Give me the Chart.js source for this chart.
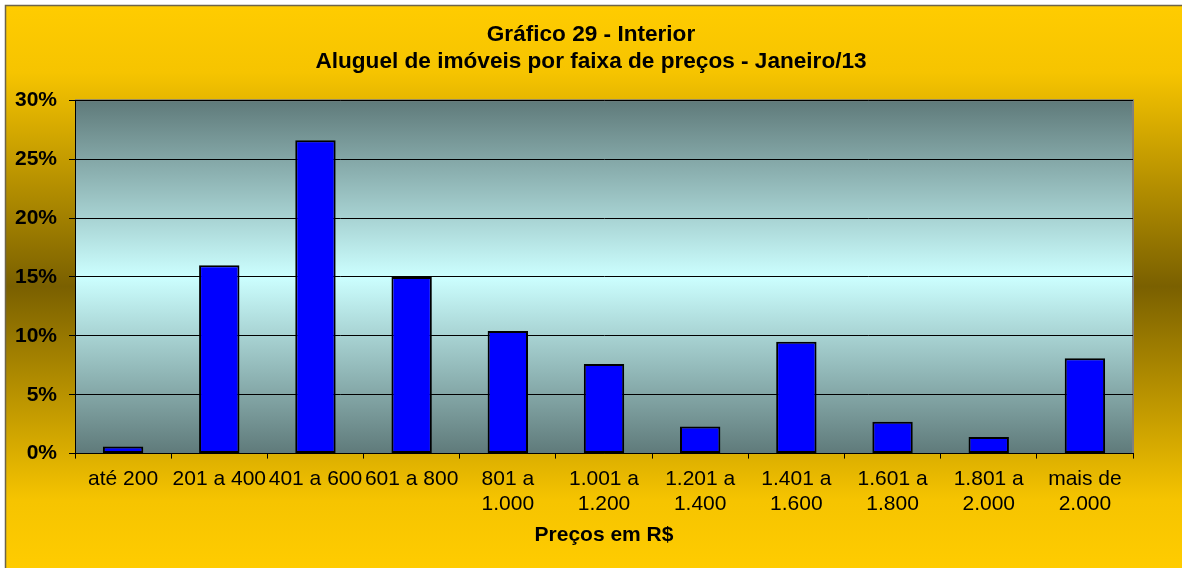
<!DOCTYPE html>
<html>
<head>
<meta charset="utf-8">
<script src="https://cdn.jsdelivr.net/npm/chart.js@4/dist/chart.umd.min.js"></script>
<style>
  html, body { margin: 0; padding: 0; background: #ffffff; }
  #wrap { position: relative; width: 1182px; height: 568px; }
</style>
</head>
<body>
<div id="wrap"><canvas id="c" width="1182" height="568"></canvas></div>
<script>
const categories = [
  "até 200", "201 a 400", "401 a 600", "601 a 800",
  ["801 a", "1.000"], ["1.001 a", "1.200"], ["1.201 a", "1.400"],
  ["1.401 a", "1.600"], ["1.601 a", "1.800"], ["1.801 a", "2.000"],
  ["mais de", "2.000"]
];
const shares = [0.6, 16.0, 26.6, 15.0, 10.4, 7.6, 2.3, 9.5, 2.7, 1.4, 8.1];
const yTicks = [0, 5, 10, 15, 20, 25, 30];
const titleLines = ["Gráfico 29 - Interior", "Aluguel de imóveis por faixa de preços - Janeiro/13"];
const xAxisTitle = "Preços em R$";

const FONT = "'Liberation Sans', Arial, sans-serif";

const backgroundPlugin = {
  id: 'bgPlugin',
  beforeDraw(chart) {
    const ctx = chart.ctx;
    const W = chart.width, H = chart.height;
    ctx.save();
    const g = ctx.createLinearGradient(0, 5, 0, H);
    g.addColorStop(0, '#FFCC00');
    g.addColorStop(0.12, '#F6C400');
    g.addColorStop(0.5, '#7A6000');
    g.addColorStop(0.88, '#F6C400');
    g.addColorStop(1, '#FFCC00');
    ctx.fillStyle = g;
    ctx.fillRect(5, 5, W - 5, H - 5);
    ctx.strokeStyle = '#6e6448';
    ctx.lineWidth = 1.5;
    ctx.beginPath();
    ctx.moveTo(5.5, H);
    ctx.lineTo(5.5, 5.5);
    ctx.lineTo(W, 5.5);
    ctx.stroke();
    const a = chart.chartArea;
    const pg = ctx.createLinearGradient(0, a.top, 0, a.bottom);
    pg.addColorStop(0, '#5F7A7A');
    pg.addColorStop(0.5, '#CCFFFF');
    pg.addColorStop(1, '#5F7A7A');
    ctx.fillStyle = pg;
    ctx.fillRect(a.left, a.top, a.right - a.left, a.bottom - a.top);
    ctx.strokeStyle = '#808080';
    ctx.lineWidth = 2;
    ctx.beginPath();
    ctx.moveTo(a.left, a.top);
    ctx.lineTo(a.right, a.top);
    ctx.lineTo(a.right, a.bottom);
    ctx.stroke();
    ctx.restore();
  }
};

new Chart(document.getElementById('c'), {
  type: 'bar',
  data: {
    labels: categories,
    datasets: [{
      data: shares,
      backgroundColor: '#0000FF',
      borderColor: '#000000',
      borderWidth: 2,
      borderSkipped: false,
      barPercentage: 0.42,
      categoryPercentage: 1.0
    }]
  },
  options: {
    responsive: false,
    animation: false,
    devicePixelRatio: 1,
    layout: { padding: { left: 0, right: 0, top: 5, bottom: 22 } },
    plugins: {
      legend: { display: false },
      tooltip: { enabled: false },
      title: {
        display: true,
        text: titleLines,
        color: '#000000',
        font: { family: FONT, size: 22.6, weight: 'bold', lineHeight: 1.2 },
        padding: { top: 16, bottom: 25 }
      }
    },
    scales: {
      x: {
        grid: {
          offset: true,
          drawOnChartArea: false,
          drawTicks: true,
          tickLength: 5,
          color: '#000000',
          lineWidth: 1
        },
        border: { display: true, color: '#000000', width: 1 },
        ticks: {
          color: '#000000',
          autoSkip: false,
          maxRotation: 0,
          minRotation: 0,
          padding: 8,
          font: { family: FONT, size: 21, lineHeight: 1.2 }
        },
        title: {
          display: true,
          text: xAxisTitle,
          color: '#000000',
          font: { family: FONT, size: 21, weight: 'bold', lineHeight: 1.0 },
          padding: { top: 0, bottom: 0 }
        }
      },
      y: {
        min: 0,
        max: 30,
        afterFit(scale) { scale.width = 75; },
        afterBuildTicks(scale) { scale.ticks = yTicks.map(v => ({ value: v })); },
        grid: {
          color: '#000000',
          lineWidth: 1,
          drawTicks: true,
          tickLength: 6
        },
        border: { display: true, color: '#000000', width: 1 },
        ticks: {
          color: '#000000',
          padding: 12,
          font: { family: FONT, size: 21, weight: 'bold' },
          callback: v => v + '%'
        }
      },
      ySpace: {
        position: 'right',
        min: 0,
        max: 30,
        afterFit(scale) { scale.width = 49; },
        grid: { display: false, drawTicks: false },
        border: { display: false },
        ticks: { display: false }
      }
    }
  },
  plugins: [backgroundPlugin]
});
</script>
</body>
</html>
